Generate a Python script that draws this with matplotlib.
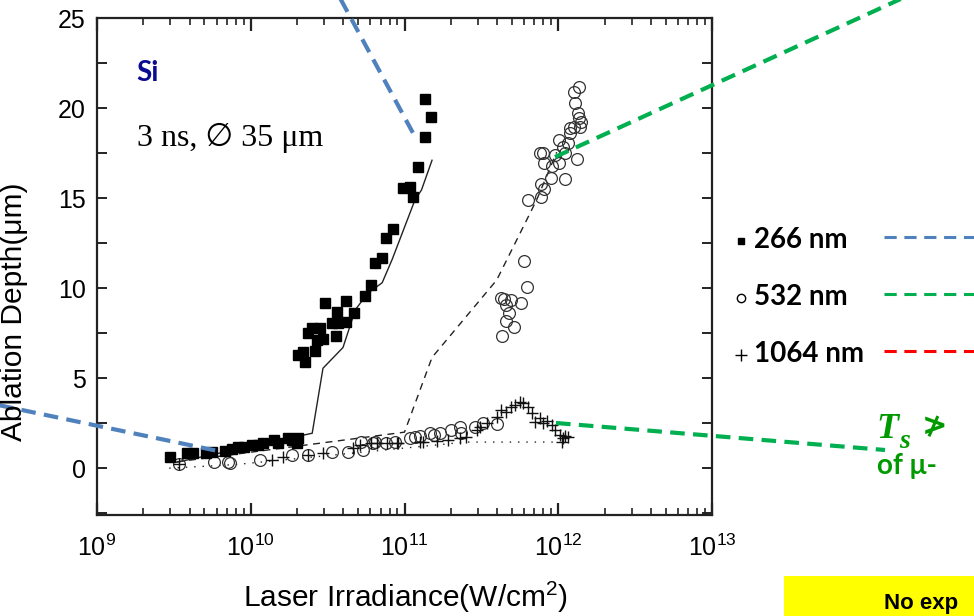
import matplotlib
matplotlib.use("Agg")
import matplotlib.pyplot as plt
from matplotlib.lines import Line2D
from matplotlib.patches import Rectangle
from matplotlib.ticker import LogLocator, MultipleLocator, NullFormatter, LogFormatterSciNotation

plt.rcParams['font.family'] = ['Liberation Sans', 'DejaVu Sans']
plt.rcParams['mathtext.fontset'] = 'custom'
plt.rcParams['mathtext.rm'] = 'Liberation Sans'
plt.rcParams['mathtext.it'] = 'Liberation Sans:italic'
plt.rcParams['mathtext.bf'] = 'Liberation Sans:bold'

# ---------------- data ----------------
irr_266 = [3.0e9, 3.85e9, 4.2e9, 5.1e9, 5.6e9, 6.8e9, 7.6e9, 8.3e9, 9.1e9, 1.02e10, 1.12e10,
           1.2e10, 1.41e10, 1.51e10, 1.74e10, 1.86e10, 2.0e10, 2.04e10,
           2.04e10, 2.19e10, 2.24e10, 2.34e10, 2.51e10, 2.69e10, 2.63e10, 2.82e10, 3.02e10,
           2.95e10, 3.39e10, 3.63e10, 3.59e10, 3.72e10, 4.17e10, 4.17e10, 4.68e10, 5.5e10,
           6.03e10, 6.46e10, 7.16e10, 7.59e10, 8.41e10, 9.77e10, 1.08e11, 1.14e11, 1.23e11,
           1.35e11, 1.35e11, 1.48e11]
dep_266 = [0.6, 0.83, 0.83, 0.83, 0.9, 0.95, 1.05, 1.17, 1.15, 1.3, 1.3,
           1.38, 1.55, 1.4, 1.65, 1.55, 1.4, 1.7,
           6.3, 6.45, 5.9, 7.5, 7.8, 7.1, 6.5, 7.8, 9.15,
           7.2, 8.05, 8.65, 7.35, 8.05, 9.3, 8.1, 8.6, 9.55,
           10.2, 11.4, 11.65, 12.8, 13.3, 15.55, 15.6, 15.05, 16.7,
           18.4, 20.5, 19.5]

irr_532 = [3.4e9, 5.75e9, 7.1e9, 7.3e9, 1.15e10, 1.86e10, 2.34e10, 3.39e10, 4.27e10, 5.25e10,
           5.37e10, 6.24e10, 6.46e10, 7.59e10, 8.71e10, 1.08e11, 1.17e11, 1.26e11, 1.46e11,
           1.55e11, 1.7e11, 2.0e11, 2.29e11, 2.34e11, 2.88e11, 3.24e11, 3.98e11,
           4.27e11, 4.47e11, 4.57e11, 4.9e11, 5.75e11, 4.79e11, 4.57e11, 5.13e11, 4.32e11,
           6.24e11, 6.03e11, 6.31e11, 7.76e11, 7.76e11, 8.13e11, 8.91e11, 1.1e12, 7.59e11,
           7.94e11, 8.13e11, 9.12e11, 9.55e11, 1.01e12, 1.01e12, 1.07e12, 1.1e12, 1.15e12,
           1.2e12, 1.2e12, 1.26e12, 1.32e12, 1.29e12, 1.35e12, 1.36e12, 1.41e12, 1.38e12,
           1.26e12, 1.36e12]
dep_532 = [0.22, 0.33, 0.33, 0.28, 0.44, 0.72, 0.72, 0.89, 0.89, 1.45,
           1.0, 1.39, 1.45, 1.39, 1.45, 1.67, 1.72, 1.78, 1.94,
           1.83, 1.94, 2.1, 2.28, 1.94, 2.28, 2.5, 2.44,
           9.44, 9.4, 9.05, 9.33, 9.17, 8.6, 8.2, 7.85, 7.33,
           10.05, 11.5, 14.9, 15.05, 15.8, 15.5, 16.1, 16.05, 17.5,
           17.5, 16.95, 16.8, 17.4, 16.95, 18.2, 17.85, 17.5, 18.05,
           18.9, 18.6, 18.95, 17.15, 20.3, 19.7, 19.45, 19.2, 18.95,
           20.9, 21.15]

irr_1064 = [3.4e9, 1.38e10, 1.62e10, 2.34e10, 2.95e10, 4.62e10, 5.13e10, 6.03e10, 6.6e10,
            7.67e10, 8.91e10, 9.12e10, 1.26e11, 1.32e11, 1.62e11, 1.91e11, 2.29e11, 2.51e11,
            2.95e11, 3.09e11, 3.43e11, 3.98e11, 4.27e11, 4.57e11, 4.9e11, 5.25e11, 5.62e11,
            5.89e11, 6.31e11, 6.76e11, 7.08e11, 7.59e11, 7.94e11, 8.51e11, 9.12e11, 9.55e11,
            1.02e12, 1.07e12, 1.1e12, 1.15e12, 1.05e12]
dep_1064 = [0.22, 0.44, 0.6, 0.72, 0.83, 1.1, 1.28, 1.39, 1.39,
            1.39, 1.39, 1.39, 1.45, 1.45, 1.5, 1.55, 1.67, 1.72,
            2.1, 2.28, 2.5, 2.83, 3.22, 3.1, 3.4, 3.5, 3.67,
            3.6, 3.4, 3.05, 2.55, 2.78, 2.5, 2.6, 2.39, 2.1,
            1.83, 1.67, 1.8, 1.72, 1.45]

model_irr_266 = [3.3e9, 2.51e10, 2.95e10, 3.98e10, 4.79e10, 5.75e10, 7.16e10, 8.32e10, 1.17e11, 1.29e11, 1.51e11]
model_dep_266 = [0.33, 1.94, 5.55, 6.7, 8.8, 9.7, 10.3, 11.6, 14.9, 15.45, 17.1]
model_irr_532 = [3.3e9, 1.0e11, 1.51e11, 3.98e11, 7.24e11, 9.77e11]
model_dep_532 = [0.35, 2.0, 6.15, 10.45, 14.9, 17.55]
model_irr_1064 = [2.95e9, 7.94e9, 2.51e11, 1.0e12]
model_dep_1064 = [0.0, 0.2, 1.45, 1.45]

legend_labels = ["266 nm", "532 nm", "1064 nm"]
legend_colors = ["#4F81BD", "#00B050", "#FF0000"]

# ---------------- figure ----------------
W, H = 974, 616
fig = plt.figure(figsize=(W / 100, H / 100), dpi=100)
fig.patch.set_facecolor('white')

def fx(x):
    return x / W

def fy(y):
    return 1 - y / H

ax = fig.add_axes([fx(97), fy(515), fx(712) - fx(97), fy(18) - fy(515)])
ax.set_xscale('log')
ax.set_xlim(1e9, 1e13)
ax.set_ylim(-2.6, 25)

ax.plot(model_irr_266, model_dep_266, color='#222222', lw=1.0, ls='-', zorder=2)
ax.plot(model_irr_532, model_dep_532, color='#222222', lw=1.0, ls=(0, (5, 4)), zorder=2)
ax.plot(model_irr_1064, model_dep_1064, color='#222222', lw=1.0, ls=(0, (1, 5)), zorder=2)

ax.plot(irr_532, dep_532, ls='none', marker='o', ms=8.5, mfc='none', mec='#333333', mew=0.9, zorder=3)
ax.plot(irr_1064, dep_1064, ls='none', marker='+', ms=9, mec='#111111', mew=1.0, zorder=3)
ax.plot(irr_266, dep_266, ls='none', marker='s', ms=7.5, mfc='black', mec='black', zorder=4)

for s in ax.spines.values():
    s.set_linewidth(1.6)
    s.set_color('#222222')

ax.xaxis.set_major_locator(LogLocator(base=10, numticks=10))
ax.xaxis.set_minor_locator(LogLocator(base=10, subs=range(2, 10), numticks=20))
ax.xaxis.set_minor_formatter(NullFormatter())
ax.xaxis.set_major_formatter(LogFormatterSciNotation())
ax.yaxis.set_major_locator(MultipleLocator(5))
ax.yaxis.set_minor_locator(MultipleLocator(2.5))

ax.tick_params(axis='both', which='both', direction='in', top=True, right=True, color='#222222')
ax.tick_params(axis='x', which='major', length=9, width=1.6, labelsize=18, pad=14)
ax.tick_params(axis='x', which='minor', length=5, width=1.2)
ax.tick_params(axis='y', which='major', length=7, width=1.4, labelsize=18, pad=8)
ax.tick_params(axis='y', which='minor', length=7, width=1.4)

fig.text(fx(14), fy(312), "Ablation Depth(μm)", rotation=90, ha='center', va='center', fontsize=21.5)
fig.text(fx(405), fy(597), "Laser Irradiance(W/cm$^2$)", ha='center', va='center', fontsize=21.5)

# in-plot labels
fig.text(fx(136), fy(73), "Si", color='#0B0B8F', fontsize=20, fontweight='bold',
         family=['Lato', 'DejaVu Sans'], ha='left', va='center')
fig.text(fx(137), fy(138), "3 ns, ∅ 35 μm", fontsize=23,
         family=['Liberation Serif', 'DejaVu Sans'], ha='left', va='center')

# legend to the right
leg_y = [240, 297, 354]
leg_marker = ['s', 'o', '+']
leg_ms = [5, 6, 9]
for yy, lab, mk, ms, col in zip(leg_y, legend_labels, leg_marker, leg_ms, legend_colors):
    fig.add_artist(Line2D([fx(741)], [fy(yy + 1)], transform=fig.transFigure, marker=mk, ms=ms,
                          mfc='black' if mk == 's' else 'none', mec='black', mew=1.0, ls='none'))
    fig.text(fx(754), fy(yy), lab, fontsize=20, fontweight='bold', family=['Lato', 'DejaVu Sans'],
             ha='left', va='center')
    fig.add_artist(Line2D([fx(884), fx(980)], [fy(yy - 3), fy(yy - 3)], transform=fig.transFigure,
                          color=col, lw=2.2, ls=(0, (4, 2.5))))

# annotation dashed leader lines
lead_kw = dict(transform=fig.transFigure, lw=3.0, ls=(0, (3.5, 2)))
fig.add_artist(Line2D([fx(340), fx(413)], [fy(-2), fy(133)], color='#4F81BD', **lead_kw))
fig.add_artist(Line2D([fx(-2), fx(218)], [fy(405), fy(451)], color='#4F81BD', **lead_kw))
fig.add_artist(Line2D([fx(555), fx(905)], [fy(157), fy(-3)], color='#00B050', **lead_kw))
fig.add_artist(Line2D([fx(556), fx(885)], [fy(423), fy(450)], color='#00B050', **lead_kw))

# green partial text
fig.text(fx(876), fy(430), "T", color='#009A00', fontsize=26, fontweight='bold', fontstyle='italic',
         family=['Liberation Serif', 'DejaVu Serif'], ha='left', va='center')
fig.text(fx(899), fy(442), "s", color='#009A00', fontsize=20, fontweight='bold', fontstyle='italic',
         family=['Liberation Serif', 'DejaVu Serif'], ha='left', va='center')
fig.text(fx(922), fy(427), "≯", color='#009A00', fontsize=22, fontweight='bold',
         family=['DejaVu Sans'], ha='left', va='center')
fig.text(fx(877), fy(466), "of μ-", color='#009A00', fontsize=20, fontweight='bold',
         family=['Lato', 'DejaVu Sans'], ha='left', va='center')

# yellow box
fig.add_artist(Rectangle((fx(784), fy(620)), fx(200), fy(576) - fy(620), transform=fig.transFigure,
                         facecolor='#FFFF00', edgecolor='none'))
fig.text(fx(884), fy(603), "No exp", fontsize=16, fontweight='bold', family=['Liberation Sans'],
         ha='left', va='center')

fig.savefig("out.png", dpi=100)
